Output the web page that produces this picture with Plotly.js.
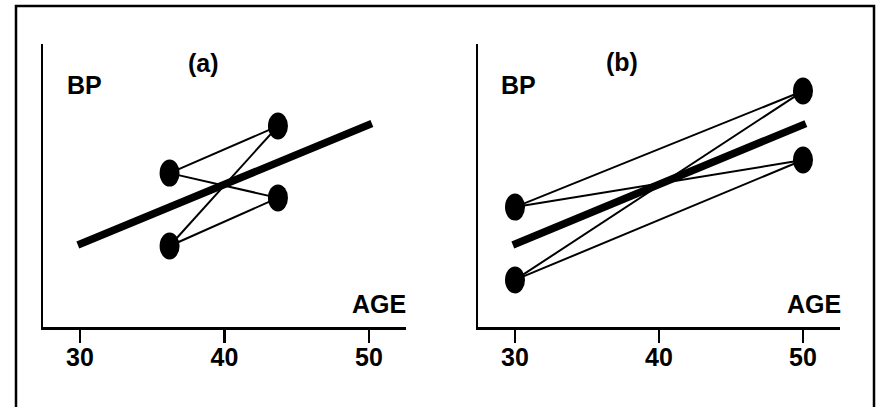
<!DOCTYPE html>
<html>
<head>
<meta charset="utf-8">
<script src="https://cdn.plot.ly/plotly-3.0.1.min.js"></script>
<style>html,body{margin:0;padding:0;background:#fff;}#chart{width:878px;height:407px;}</style>
</head>
<body>
<div id="chart"></div>
<script>
// ---- data ----
const tickAges = [30, 40, 50];
const tickLabels = ["30", "40", "50"];
// panel (a): two age groups close together
const panelA_ages = [36.2, 43.7];
const panelA_youngBP = [143.5, 122.9];
const panelA_oldBP = [156.8, 136.5];
// panel (b): two age groups far apart
const panelB_ages = [30, 50];
const panelB_youngBP = [133.9, 113.3];
const panelB_oldBP = [166.7, 147.2];
// common fitted line
const fitAges = [29.85, 50.2];
const fitBP = [123.2, 157.5];

const FONT = "Liberation Sans, Arial, sans-serif";

const traces = [];
const shapes = [];
function addPanel(ages, youngBP, oldBP, xa, ya) {
  youngBP.forEach(function (y0) {
    oldBP.forEach(function (y1) {
      traces.push({x: [ages[0], ages[1]], y: [y0, y1], xaxis: xa, yaxis: ya, mode: "lines",
        line: {color: "#000", width: 2}, hoverinfo: "skip", showlegend: false});
    });
  });
  traces.push({x: fitAges, y: fitBP, xaxis: xa, yaxis: ya, mode: "lines",
    line: {color: "#000", width: 7.5}, hoverinfo: "skip", showlegend: false});
  youngBP.forEach(function (v) {
    shapes.push({type: "circle", xref: xa, yref: ya, xsizemode: "pixel", ysizemode: "pixel",
      xanchor: ages[0], yanchor: v, x0: -10, x1: 10, y0: -13.5, y1: 13.5,
      fillcolor: "#000", line: {width: 0}});
  });
  oldBP.forEach(function (v) {
    shapes.push({type: "circle", xref: xa, yref: ya, xsizemode: "pixel", ysizemode: "pixel",
      xanchor: ages[1], yanchor: v, x0: -10, x1: 10, y0: -13.5, y1: 13.5,
      fillcolor: "#000", line: {width: 0}});
  });
}
addPanel(panelA_ages, panelA_youngBP, panelA_oldBP, "x", "y");
addPanel(panelB_ages, panelB_youngBP, panelB_oldBP, "x2", "y2");

// outer frame
shapes.push({type: "rect", xref: "paper", yref: "paper", x0: 16/878, x1: 874/878,
  y0: -0.1, y1: (407-6)/407, line: {color: "#000", width: 2.5}, fillcolor: "rgba(0,0,0,0)", layer: "below"});

const xRange = [30 - (80-43)/14.45, 30 + (406-80)/14.45];
const xRange2 = [30 - (515-478)/14.4, 30 + (840-515)/14.4];
function xAxis(domain, range, anchor) {
  return {domain: domain, range: range, anchor: anchor, tickvals: tickAges, ticktext: tickLabels,
    ticks: "outside", ticklen: 13, tickwidth: 2.5, tickcolor: "#000", ticklabelstandoff: -7,
    showline: true, linecolor: "#000", linewidth: 2.5, showgrid: false, zeroline: false,
    tickfont: {family: FONT, size: 25, color: "#000", weight: "bold"}, fixedrange: true};
}
function yAxis(anchor) {
  return {domain: [(407-327)/407, (407-44)/407], range: [100, 180], anchor: anchor,
    showline: true, linecolor: "#000", linewidth: 2.5, showgrid: false, zeroline: false,
    showticklabels: false, ticks: "", fixedrange: true};
}
const annFont = {family: FONT, size: 25, color: "#000", weight: "bold"};
function ann(text, x, y, xanchor) {
  return {text: text, x: x, y: y, xref: "paper", yref: "paper", xanchor: xanchor, yanchor: "middle",
    showarrow: false, font: annFont};
}
const layout = {
  width: 878, height: 407, margin: {l: 0, r: 0, t: 0, b: 0},
  paper_bgcolor: "#fff", plot_bgcolor: "rgba(0,0,0,0)", showlegend: false,
  xaxis: xAxis([43/878, 406/878], xRange, "y"),
  yaxis: yAxis("x"),
  xaxis2: xAxis([478/878, 840/878], xRange2, "y2"),
  yaxis2: yAxis("x2"),
  shapes: shapes,
  annotations: [
    ann("(a)", 203/878, (407-63)/407, "center"),
    ann("(b)", 622/878, (407-62)/407, "center"),
    ann("BP", 65/878, (407-85)/407, "left"),
    ann("BP", 499/878, (407-85)/407, "left"),
    ann("AGE", 408/878, (407-304)/407, "right"),
    ann("AGE", 843/878, (407-304)/407, "right")
  ]
};
Plotly.newPlot("chart", traces, layout, {displayModeBar: false, staticPlot: true});
</script>
</body>
</html>
